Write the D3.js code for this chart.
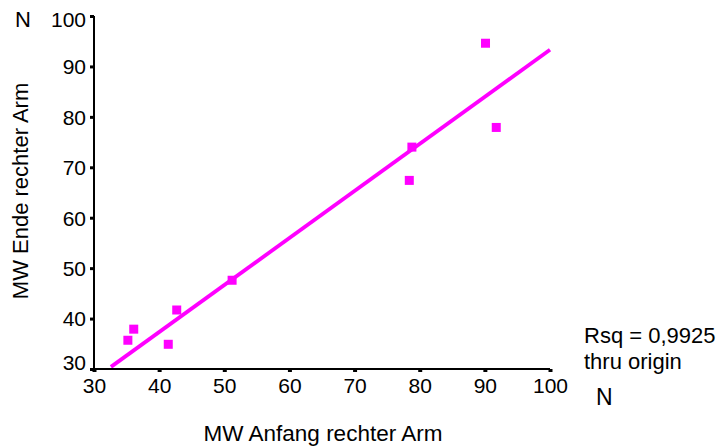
<!DOCTYPE html>
<html>
<head>
<meta charset="utf-8">
<script src="https://cdn.jsdelivr.net/npm/d3@7"></script>
<style>
  body { margin: 0; background: #fff; }
  text { font-family: "Liberation Sans", Arial, sans-serif; fill: #000; }
</style>
</head>
<body>
<svg id="chart" width="725" height="447"></svg>
<script>
// data
var anfang = [35.2, 36.1, 41.4, 42.7, 51.2, 78.4, 78.8, 90.1, 91.75];
var ende   = [35.7, 37.9, 34.9, 41.7, 47.6, 67.4, 74.0, 94.6, 77.9];
var fitRange = [32.6, 100];
var xTicks = [30, 40, 50, 60, 70, 80, 90, 100];
var yTicks = [30, 40, 50, 60, 70, 80, 90, 100];
var rsqText = ["Rsq = 0,9925", "thru origin"];

var plotLeft = 94, plotTop = 16, plotWidth = 456, plotHeight = 353;
var svg = d3.select('#chart');

var x = d3.scaleLinear().domain([30, 100]).range([plotLeft, plotLeft + plotWidth]);
var y = d3.scaleLinear().domain([30, 100]).range([plotTop + plotHeight, plotTop]);

// regression through origin
var sxy = d3.sum(anfang, function (d, i) { return d * ende[i]; });
var sxx = d3.sum(anfang, function (d) { return d * d; });
var slope = sxy / sxx;

// fit line
svg.append('line')
  .attr('x1', x(fitRange[0])).attr('y1', y(slope * fitRange[0]))
  .attr('x2', x(fitRange[1])).attr('y2', y(slope * fitRange[1]))
  .attr('stroke', '#ff00ff')
  .attr('stroke-width', 3.8);

// points
svg.selectAll('rect.pt')
  .data(anfang)
  .enter()
  .append('rect')
  .attr('class', 'pt')
  .attr('x', function (d) { return x(d) - 4.5; })
  .attr('y', function (d, i) { return y(ende[i]) - 4.5; })
  .attr('width', 9)
  .attr('height', 9)
  .attr('fill', '#ff00ff');

// y axis
var yAxis = d3.axisLeft(y).tickValues(yTicks).tickSize(4).tickPadding(4);
var gy = svg.append('g')
  .attr('transform', 'translate(' + plotLeft + ',0)')
  .call(yAxis);
gy.select('.domain').attr('stroke', '#000').attr('stroke-width', 2).attr('d', 'M0,' + plotTop + 'V' + (plotTop + plotHeight + 1));
gy.selectAll('.tick line').attr('stroke', '#000').attr('stroke-width', 3);
gy.selectAll('.tick text')
  .style('font-size', '21px')
  .attr('dy', function (d) { return d === 30 ? '0.02em' : (d === 100 ? '0.5em' : '0.35em'); });

// x axis
var xAxis = d3.axisBottom(x).tickValues(xTicks).tickSize(3).tickPadding(6);
var gx = svg.append('g')
  .attr('transform', 'translate(0,' + (plotTop + plotHeight) + ')')
  .call(xAxis);
gx.select('.domain').attr('stroke', '#000').attr('stroke-width', 2).attr('d', 'M' + (plotLeft - 1) + ',0H' + (plotLeft + plotWidth));
gx.selectAll('.tick line').attr('stroke', '#000').attr('stroke-width', 4);
gx.selectAll('.tick text').style('font-size', '21px');

// axis titles
svg.append('text')
  .attr('x', 323)
  .attr('y', 441)
  .style('text-anchor', 'middle')
  .style('font-size', '22.5px')
  .text('MW Anfang rechter Arm');

svg.append('text')
  .attr('transform', 'translate(28,191) rotate(-90)')
  .style('text-anchor', 'middle')
  .style('font-size', '22px')
  .text('MW Ende rechter Arm');

// N labels
svg.append('text').attr('x', 15).attr('y', 27).style('font-size', '22px').text('N');
svg.append('text').attr('x', 596).attr('y', 405).style('font-size', '23px').text('N');

// fit note
svg.selectAll('text.note')
  .data(rsqText)
  .enter()
  .append('text')
  .attr('class', 'note')
  .attr('x', 584)
  .attr('y', function (d, i) { return 343 + i * 25.5; })
  .style('font-size', '22px')
  .text(function (d) { return d; });
</script>
</body>
</html>
